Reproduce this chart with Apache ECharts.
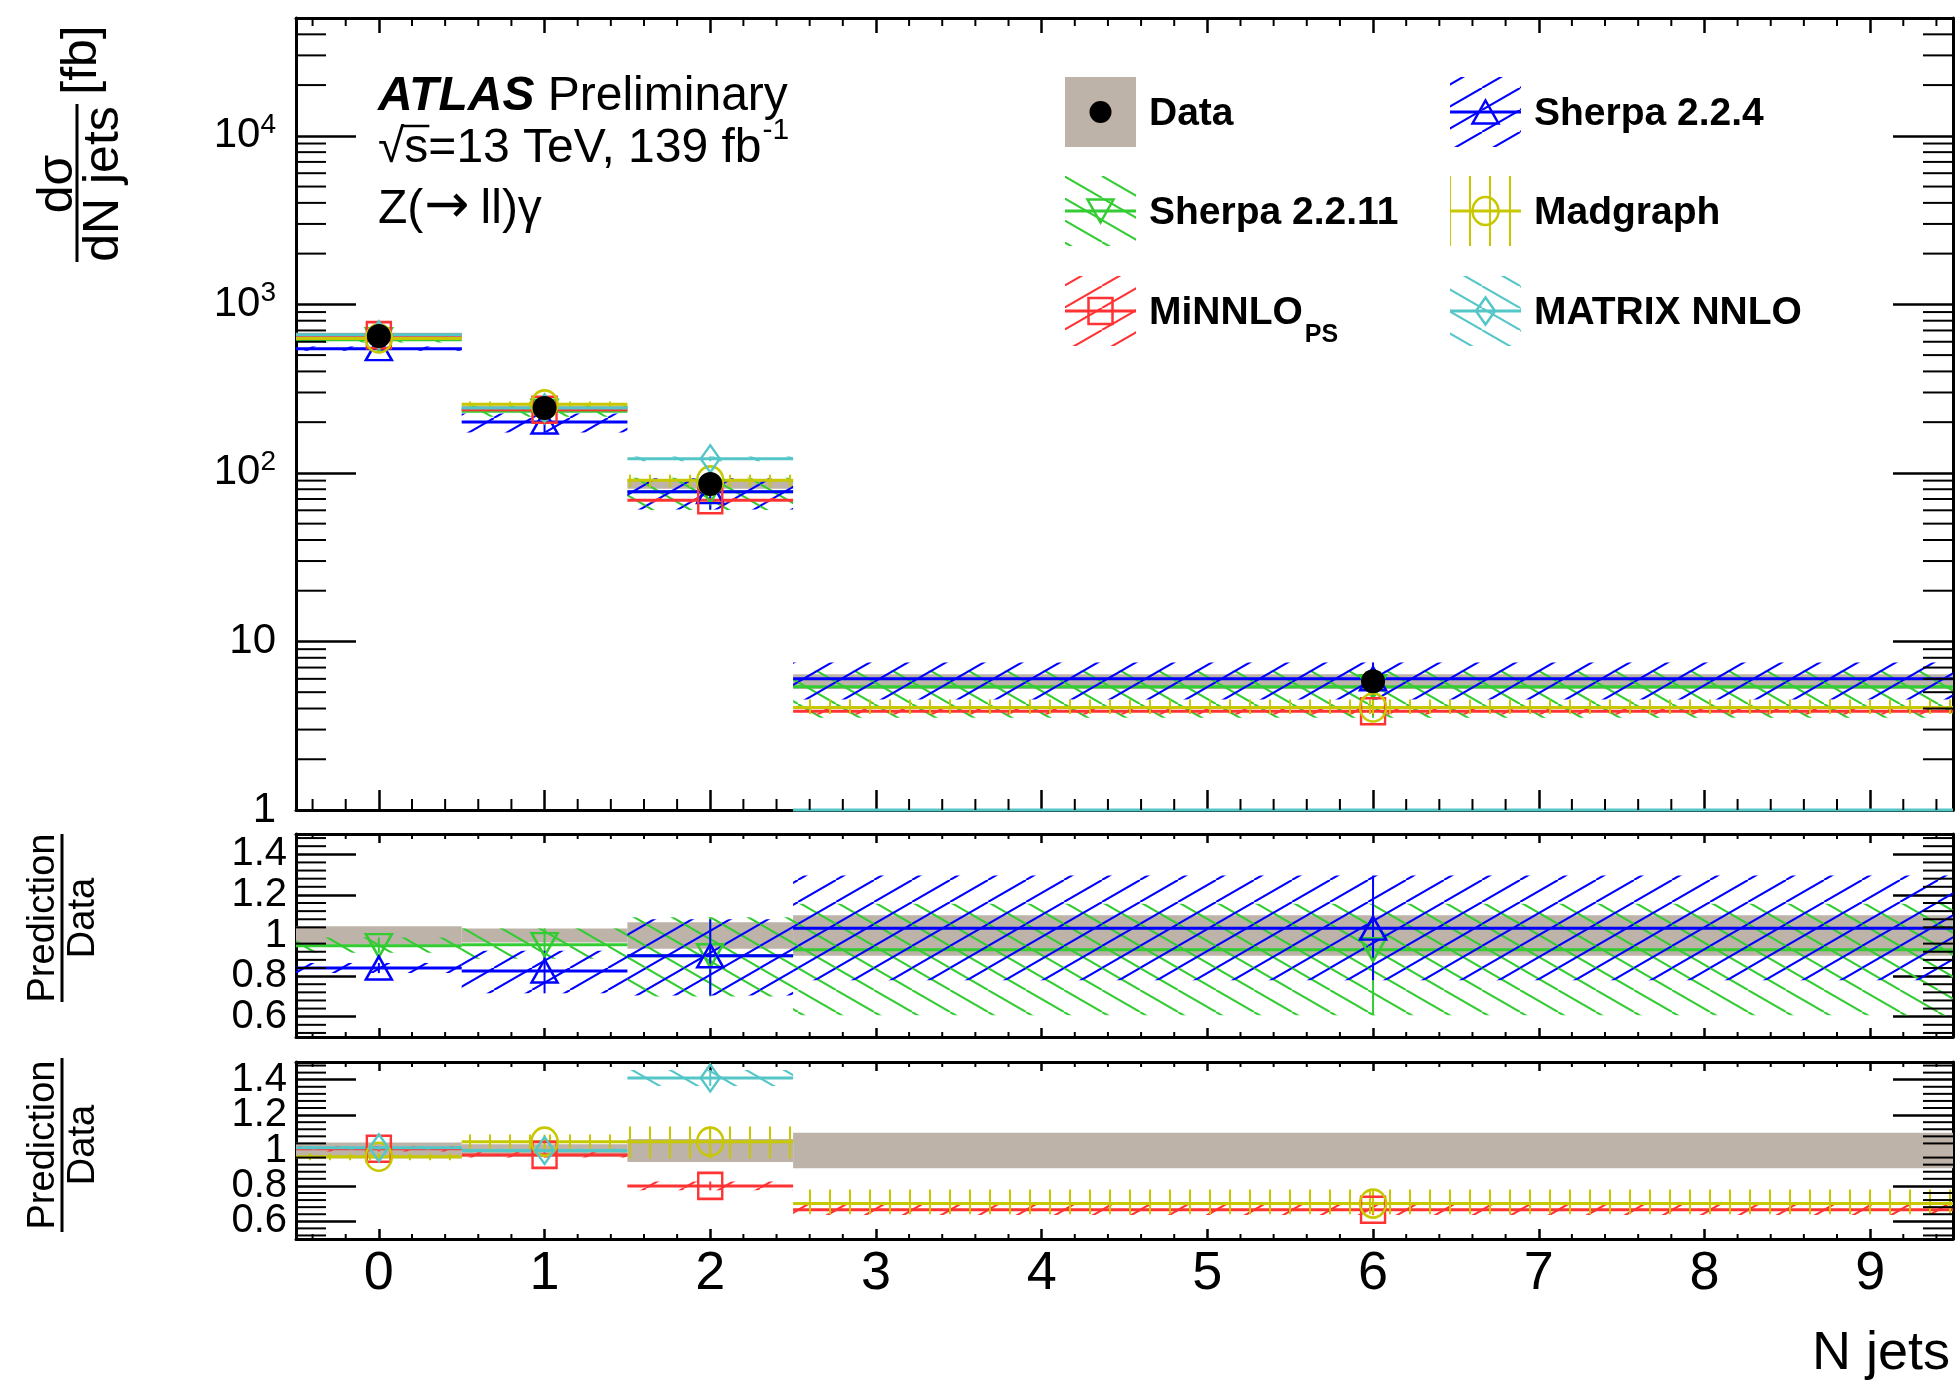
<!DOCTYPE html>
<html>
<head>
<meta charset="utf-8">
<script src="https://cdn.jsdelivr.net/npm/echarts@6/dist/echarts.min.js"></script>
<style>
html,body{margin:0;padding:0;background:#ffffff;}
#chart{width:1957px;height:1383px;}
</style>
</head>
<body>
<div id="chart"></div>
<script>
// ---------------- data ----------------
const binLow     = [-0.5, 0.5, 1.5, 2.5];
const binHigh    = [0.5, 1.5, 2.5, 9.5];
const binMarkerX = [0, 1, 2, 6];
const xTickLabels = ['0','1','2','3','4','5','6','7','8','9'];

const dataXsec  = [650, 243, 86, 5.8];          // fb
const dataRelLo = [0.955, 0.965, 0.935, 0.90];  // total uncertainty band / data
const dataRelHi = [1.045, 1.035, 1.065, 1.10];

const sherpa224Ratio = [0.84, 0.825, 0.90, 1.036];
const sherpa224Lo    = [0.815, 0.715, 0.705, 0.78];
const sherpa224Hi    = [0.865, 0.925, 1.08, 1.295];

const sherpa2211Ratio = [0.95, 0.955, 0.90, 0.93];
const sherpa2211Lo    = [0.915, 0.885, 0.70, 0.607];
const sherpa2211Hi    = [0.99, 1.035, 1.09, 1.156];

const minnloRatio = [1.01, 0.975, 0.80, 0.665];
const minnloLo    = [0.995, 0.96, 0.775, 0.635];
const minnloHi    = [1.025, 0.99, 0.825, 0.695];

const madgraphRatio = [0.965, 1.05, 1.05, 0.70];
const madgraphLo    = [0.945, 1.01, 0.955, 0.64];
const madgraphHi    = [0.985, 1.09, 1.135, 0.78];

const matrixRatio = [1.015, 1.0, 1.41, 0];
const matrixLo    = [1.005, 0.99, 1.365, 0];
const matrixHi    = [1.025, 1.01, 1.455, 0];

const mainYMinorTicks  = [2,3,4,5,6,7,8,9,20,30,40,50,60,70,80,90,200,300,400,500,600,700,800,900,
                          2000,3000,4000,5000,6000,7000,8000,9000,20000,30000,40000];
const ratioYMinorTicks = [0.52,0.56,0.64,0.68,0.72,0.76,0.84,0.88,0.92,0.96,1.04,1.08,1.12,1.16,
                          1.24,1.28,1.32,1.36,1.44,1.48];
const xMinorTicks = [-0.4,-0.2,0.2,0.4,0.6,0.8,1.2,1.4,1.6,1.8,2.2,2.4,2.6,2.8,3.2,3.4,3.6,3.8,
                     4.2,4.4,4.6,4.8,5.2,5.4,5.6,5.8,6.2,6.4,6.6,6.8,7.2,7.4,7.6,7.8,8.2,8.4,8.6,8.8,9.2,9.4];

// ---------------- styles ----------------
const FONT = '"Liberation Sans", Arial, Helvetica, sans-serif';
const GREY = '#bdb3a8';

function makeHatch(color, kind) {
  const c = document.createElement('canvas');
  let W, H;
  if (kind === '|') { W = 20; H = 20; } else { W = 38; H = 22; }
  c.width = W; c.height = H;
  const g = c.getContext('2d');
  g.strokeStyle = color; g.lineWidth = 2;
  g.beginPath();
  if (kind === '|') { g.moveTo(W / 2, 0); g.lineTo(W / 2, H); }
  else if (kind === '/') { [-W, 0, W].forEach(dx => { g.moveTo(dx, H); g.lineTo(dx + W, 0); }); }
  else { [-W, 0, W].forEach(dx => { g.moveTo(dx, 0); g.lineTo(dx + W, H); }); }
  g.stroke();
  return { image: c, repeat: 'repeat' };
}

const models = {
  sherpa2211: { label: 'Sherpa 2.2.11', c: sherpa2211Ratio, lo: sherpa2211Lo, hi: sherpa2211Hi,
                color: '#33cc33', hatch: '\\', symbol: 'triangle', rotate: 180, size: [26, 23] },
  sherpa224:  { label: 'Sherpa 2.2.4', c: sherpa224Ratio, lo: sherpa224Lo, hi: sherpa224Hi,
                color: '#0000ff', hatch: '/', symbol: 'triangle', rotate: 0, size: [26, 23] },
  minnlo:     { label: 'MiNNLO', c: minnloRatio, lo: minnloLo, hi: minnloHi,
                color: '#ff3333', hatch: '/', symbol: 'rect', rotate: 0, size: [24, 26] },
  madgraph:   { label: 'Madgraph', c: madgraphRatio, lo: madgraphLo, hi: madgraphHi,
                color: '#c8c800', hatch: '|', symbol: 'circle', rotate: 0, size: [26, 28] },
  matrix:     { label: 'MATRIX NNLO', c: matrixRatio, lo: matrixLo, hi: matrixHi,
                color: '#55c6c8', hatch: '\\', symbol: 'diamond', rotate: 0, size: [19, 27] }
};
Object.values(models).forEach(m => { m.pattern = makeHatch(m.color, m.hatch); });

// ---------------- layout ----------------
const L = 296, W = 1657;
const grids = [
  { left: L, top: 18,   width: W, height: 792 },
  { left: L, top: 834,  width: W, height: 203 },
  { left: L, top: 1062, width: W, height: 177 }
];

// ---------------- axes ----------------
const xAxes = [], yAxes = [];
function addXAxes(gi, showLabels, majB, majT) {
  const base = {
    type: 'value', gridIndex: gi, min: -0.5, max: 9.5, splitNumber: 10,
    splitLine: { show: false },
    axisLine: { show: true, onZero: false, lineStyle: { color: '#000', width: 3 } }
  };
  xAxes.push(Object.assign({}, base, {
    position: 'bottom',
    axisTick: { show: true, inside: true, length: majB, lineStyle: { color: '#000', width: 2.5 } },
    axisLabel: {
      show: showLabels, color: '#000', fontFamily: FONT, fontSize: 54, margin: 8,
      formatter: v => (Math.abs(v - Math.round(v)) < 1e-6 && v >= 0 && v <= 9) ? xTickLabels[Math.round(v)] : ''
    }
  }));
  xAxes.push(Object.assign({}, base, {
    position: 'top',
    axisTick: { show: true, inside: true, length: majT, lineStyle: { color: '#000', width: 2.5 } },
    axisLabel: { show: false }
  }));
}
function isPow10(v) { const l = Math.log10(v); return Math.abs(l - Math.round(l)) < 1e-6; }
function addMainY() {
  const base = {
    type: 'log', logBase: 10, gridIndex: 0, min: 1, max: 50000,
    splitLine: { show: false },
    axisLine: { show: true, onZero: false, lineStyle: { color: '#000', width: 3 } },
    axisTick: { show: true, inside: true, length: 60, lineStyle: { color: '#000', width: 2.5 } }
  };
  yAxes.push(Object.assign({}, base, {
    position: 'left',
    axisLabel: {
      color: '#000', fontFamily: FONT, fontSize: 42, margin: 20,
      formatter: v => {
        if (!isPow10(v)) return '';
        const e = Math.round(Math.log10(v));
        if (e === 0) return '1';
        if (e === 1) return '10';
        return '10{s|' + e + '}';
      },
      rich: { s: { fontFamily: FONT, fontSize: 28, color: '#000', padding: [0, 0, 22, 0] } }
    }
  }));
  yAxes.push(Object.assign({}, base, { position: 'right', axisLabel: { show: false } }));
}
function addRatioY(gi) {
  const base = {
    type: 'value', gridIndex: gi, min: 0.5, max: 1.5, splitNumber: 5,
    splitLine: { show: false },
    axisLine: { show: true, onZero: false, lineStyle: { color: '#000', width: 3 } },
    axisTick: { show: true, inside: true, length: 60, lineStyle: { color: '#000', width: 2.5 } }
  };
  yAxes.push(Object.assign({}, base, {
    position: 'left',
    axisLabel: {
      color: '#000', fontFamily: FONT, fontSize: 40, margin: 9,
      formatter: v => (v < 0.55 || v > 1.45) ? '' : String(+v.toFixed(1))
    }
  }));
  yAxes.push(Object.assign({}, base, { position: 'right', axisLabel: { show: false } }));
}
addXAxes(0, false, 20, 15);
addXAxes(1, false, 9, 9);
addXAxes(2, true, 10, 9);
addMainY();
addRatioY(1);
addRatioY(2);
// axis index of each panel: main -> x0,y0 ; ratio1 -> x2,y2 ; ratio2 -> x4,y4
const panelAxis = [0, 2, 4];

// ---------------- series builders ----------------
const series = [];

function clipRect(cs) {
  return { type: 'rect', shape: { x: cs.x - 1, y: cs.y - 1, width: cs.width + 2, height: cs.height + 3 } };
}

function bandItems(c, lo, hi, scale) {
  return c.map((_, i) => [binLow[i], binHigh[i], binMarkerX[i],
    lo[i] * scale[i], hi[i] * scale[i], c[i] * scale[i]]);
}

function addDataBand(panel, isLog) {
  const scale = isLog ? dataXsec : dataXsec.map(() => 1);
  const ones = dataXsec.map(() => 1);
  series.push({
    type: 'custom', xAxisIndex: panelAxis[panel], yAxisIndex: panelAxis[panel],
    silent: true, z: 2,
    data: bandItems(ones, dataRelLo, dataRelHi, scale),
    encode: { x: [0, 1], y: [3, 4] },
    renderItem: (params, api) => {
      const a = api.coord([api.value(0), api.value(4)]);
      const b = api.coord([api.value(1), api.value(3)]);
      return { type: 'group', clipPath: clipRect(params.coordSys), children: [
        { type: 'rect', shape: { x: a[0], y: a[1], width: b[0] - a[0], height: b[1] - a[1] },
          style: { fill: GREY } } ] };
    }
  });
}

function addModel(m, panel, isLog) {
  const scale = isLog ? dataXsec : dataXsec.map(() => 1);
  const fix = v => (isLog && !(v > 0)) ? 1 : v;
  series.push({
    type: 'custom', xAxisIndex: panelAxis[panel], yAxisIndex: panelAxis[panel],
    silent: true, z: 3,
    data: bandItems(m.c, m.lo, m.hi, scale),
    encode: { x: [0, 1], y: [5] },
    renderItem: (params, api) => {
      const x0 = api.value(0), x1 = api.value(1), xc = api.value(2);
      const lo = fix(api.value(3)), hi = fix(api.value(4)), c = fix(api.value(5));
      const a = api.coord([x0, hi]), b = api.coord([x1, lo]);
      const m0 = api.coord([x0, c]), m1 = api.coord([x1, c]);
      const v0 = api.coord([xc, lo]), v1 = api.coord([xc, hi]);
      const ch = [];
      if (b[1] - a[1] > 0.5) {
        ch.push({ type: 'rect', shape: { x: a[0], y: a[1], width: b[0] - a[0], height: b[1] - a[1] },
                  style: { fill: m.pattern } });
      }
      ch.push({ type: 'line', shape: { x1: m0[0], y1: m0[1], x2: m1[0], y2: m1[1] },
                style: { stroke: m.color, lineWidth: 3 } });
      if (v0[1] - v1[1] > 0.5) {
        ch.push({ type: 'line', shape: { x1: v0[0], y1: v0[1], x2: v1[0], y2: v1[1] },
                  style: { stroke: m.color, lineWidth: 2 } });
      }
      return { type: 'group', clipPath: clipRect(params.coordSys), children: ch };
    }
  });
  const pts = [];
  m.c.forEach((v, i) => { if (v > 0) pts.push([binMarkerX[i], v * scale[i]]); });
  series.push({
    type: 'scatter', xAxisIndex: panelAxis[panel], yAxisIndex: panelAxis[panel],
    silent: true, z: 4, clip: true,
    symbol: m.symbol, symbolSize: m.size, symbolRotate: m.rotate,
    itemStyle: { color: 'rgba(255,255,255,0)', borderColor: m.color, borderWidth: 2.5, opacity: 1 },
    data: pts
  });
}

function addTicks(panel, yMinors, yRef, lenY, lenXBottom, lenXTop) {
  series.push({
    type: 'custom', xAxisIndex: panelAxis[panel], yAxisIndex: panelAxis[panel],
    silent: true, z: 6, data: [[0, yRef]], encode: { x: 0, y: 1 },
    renderItem: (params, api) => {
      const cs = params.coordSys, ch = [];
      const st = { stroke: '#000', lineWidth: 2 };
      yMinors.forEach(v => {
        const y = api.coord([0, v])[1];
        ch.push({ type: 'line', shape: { x1: cs.x, y1: y, x2: cs.x + lenY, y2: y }, style: st });
        ch.push({ type: 'line', shape: { x1: cs.x + cs.width - lenY, y1: y, x2: cs.x + cs.width, y2: y }, style: st });
      });
      xMinorTicks.forEach(v => {
        const x = api.coord([v, yRef])[0];
        ch.push({ type: 'line', shape: { x1: x, y1: cs.y + cs.height, x2: x, y2: cs.y + cs.height - lenXBottom }, style: st });
        ch.push({ type: 'line', shape: { x1: x, y1: cs.y, x2: x, y2: cs.y + lenXTop }, style: st });
      });
      return { type: 'group', children: ch };
    }
  });
}

// main panel
addDataBand(0, true);
['sherpa2211', 'sherpa224', 'minnlo', 'madgraph', 'matrix'].forEach(k => addModel(models[k], 0, true));
series.push({
  type: 'scatter', xAxisIndex: 0, yAxisIndex: 0, silent: true, z: 5,
  symbol: 'circle', symbolSize: 24, itemStyle: { color: '#000', opacity: 1 },
  data: dataXsec.map((v, i) => [binMarkerX[i], v])
});
addTicks(0, mainYMinorTicks, 1, 30, 11, 8);
// ratio panel 1
addDataBand(1, false);
['sherpa2211', 'sherpa224'].forEach(k => addModel(models[k], 1, false));
addTicks(1, ratioYMinorTicks, 1, 30, 5, 5);
// ratio panel 2
addDataBand(2, false);
['minnlo', 'madgraph', 'matrix'].forEach(k => addModel(models[k], 2, false));
addTicks(2, ratioYMinorTicks, 1, 30, 5, 5);

// ---------------- text & legend (graphic) ----------------
const mctx = document.createElement('canvas').getContext('2d');
function textW(font, s) { mctx.font = font; return mctx.measureText(s).width; }

function txt(x, y, s, size, opts) {
  opts = opts || {};
  const fam = opts.family || FONT;
  const st = {
    text: s, fill: '#000', fontFamily: fam, fontSize: size,
    fontWeight: opts.bold ? 'bold' : 'normal', fontStyle: opts.italic ? 'italic' : 'normal',
    align: opts.align || 'left', textAlign: opts.align || 'left',
    verticalAlign: 'middle', textVerticalAlign: 'middle'
  };
  return { type: 'text', x: x, y: y, rotation: opts.rot || 0, silent: true, z: 20, style: st };
}
function hline(x1, x2, y, color, w) {
  return { type: 'line', silent: true, z: 20, shape: { x1: x1, y1: y, x2: x2, y2: y }, style: { stroke: color, lineWidth: w } };
}
function vline(x, y1, y2, color, w) {
  return { type: 'line', silent: true, z: 20, shape: { x1: x, y1: y1, x2: x, y2: y2 }, style: { stroke: color, lineWidth: w } };
}

const graphics = [];
// ATLAS label
const atlasFontB = 'italic bold 48px ' + FONT;
const atlasW = textW(atlasFontB, 'ATLAS ');
graphics.push(txt(378, 97, 'ATLAS', 48, { bold: true, italic: true }));
graphics.push(txt(378 + atlasW, 97, 'Preliminary', 48));
const line2 = '\u221As=13 TeV, 139 fb';
const line2W = textW('48px ' + FONT, line2);
graphics.push(txt(378, 149, line2, 48));
graphics.push(txt(378 + line2W + 1, 131, '-1', 30));
const sqrtW = textW('48px ' + FONT, '\u221A');
const sW = textW('48px ' + FONT, 's');
graphics.push(hline(378 + sqrtW - 2, 378 + sqrtW + sW + 1, 126, '#000', 2.5));
// Z(-> ll)gamma, with a wider arrow glyph
const zW = textW('48px ' + FONT, 'Z(');
const ARROWFONT = '"DejaVu Sans", ' + FONT;
const arW = textW('54px ' + ARROWFONT, '\u2192');
graphics.push(txt(378, 210, 'Z(', 48));
graphics.push(txt(378 + zW + 1, 208, '\u2192', 54, { family: ARROWFONT }));
graphics.push(txt(378 + zW + arW + 12, 210, 'll)\u03B3', 48));

// y-axis titles
graphics.push(txt(58, 184, 'd\u03C3', 50, { align: 'center', rot: Math.PI / 2 }));
graphics.push(vline(77, 104, 262, '#000', 3));
graphics.push(txt(104, 184, 'dN jets', 50, { align: 'center', rot: Math.PI / 2 }));
graphics.push(txt(82, 60, '[fb]', 50, { align: 'center', rot: Math.PI / 2 }));

[[918, 834, 1002], [1145, 1058, 1232]].forEach(r => {
  graphics.push(txt(44, r[0], 'Prediction', 38, { align: 'center', rot: Math.PI / 2 }));
  graphics.push(vline(62, r[1], r[2], '#000', 3));
  graphics.push(txt(84, r[0], 'Data', 38, { align: 'center', rot: Math.PI / 2 }));
});

// x-axis title
graphics.push(txt(1950, 1354, 'N jets', 54, { align: 'right' }));

// legend
const legendEntries = [
  { key: null,         label: 'Data',          col: 0, row: 0 },
  { key: 'sherpa2211', label: 'Sherpa 2.2.11', col: 0, row: 1 },
  { key: 'minnlo',     label: 'MiNNLO',        col: 0, row: 2, sub: 'PS' },
  { key: 'sherpa224',  label: 'Sherpa 2.2.4',  col: 1, row: 0 },
  { key: 'madgraph',   label: 'Madgraph',      col: 1, row: 1 },
  { key: 'matrix',     label: 'MATRIX NNLO',   col: 1, row: 2 }
];
const legBoxX = [1065, 1450], legTextX = [1149, 1534], legRowY = [112, 211, 311];
const BW = 71, BH = 70;

function markerShape(m, cx, cy, color) {
  const w = m.size[0], h = m.size[1];
  const st = { fill: 'none', stroke: color, lineWidth: 2.5 };
  if (m.symbol === 'circle') return { type: 'ellipse', z: 21, shape: { cx: cx, cy: cy, rx: w / 2, ry: h / 2 }, style: st };
  if (m.symbol === 'rect') return { type: 'rect', z: 21, shape: { x: cx - w / 2, y: cy - h / 2, width: w, height: h }, style: st };
  if (m.symbol === 'diamond') return { type: 'polygon', z: 21, shape: { points: [[cx, cy - h / 2], [cx + w / 2, cy], [cx, cy + h / 2], [cx - w / 2, cy]] }, style: st };
  if (m.rotate === 180) return { type: 'polygon', z: 21, shape: { points: [[cx - w / 2, cy - h / 2], [cx + w / 2, cy - h / 2], [cx, cy + h / 2]] }, style: st };
  return { type: 'polygon', z: 21, shape: { points: [[cx, cy - h / 2], [cx + w / 2, cy + h / 2], [cx - w / 2, cy + h / 2]] }, style: st };
}

legendEntries.forEach(e => {
  const bx = legBoxX[e.col], cy = legRowY[e.row], by = cy - BH / 2;
  if (e.key === null) {
    graphics.push({ type: 'rect', z: 20, shape: { x: bx, y: by, width: BW, height: BH }, style: { fill: GREY } });
    graphics.push({ type: 'circle', z: 21, shape: { cx: bx + BW / 2, cy: cy, r: 11 }, style: { fill: '#000' } });
  } else {
    const m = models[e.key];
    graphics.push({ type: 'rect', z: 20, shape: { x: bx, y: by, width: BW, height: BH }, style: { fill: m.pattern } });
    graphics.push(hline(bx, bx + BW, cy, m.color, 3));
    graphics.push(markerShape(m, bx + BW / 2, cy, m.color));
  }
  graphics.push(txt(legTextX[e.col], cy + 2, e.label, 39, { bold: true }));
  if (e.sub) {
    const w = textW('bold 39px ' + FONT, e.label);
    graphics.push(txt(legTextX[e.col] + w + 2, cy + 24, e.sub, 25, { bold: true }));
  }
});

// ---------------- chart ----------------
const chart = echarts.init(document.getElementById('chart'), null, { renderer: 'canvas', width: 1957, height: 1383 });
chart.setOption({
  animation: false,
  backgroundColor: '#ffffff',
  textStyle: { fontFamily: FONT },
  grid: grids.map(g => Object.assign({ containLabel: false, outerBoundsMode: 'none' }, g)),
  xAxis: xAxes,
  yAxis: yAxes,
  series: series,
  graphic: { elements: graphics }
});
</script>
</body>
</html>
